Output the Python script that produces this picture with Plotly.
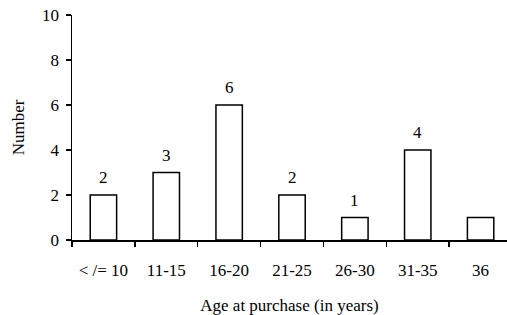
import plotly.graph_objects as go

categories = ["< /= 10", "11-15", "16-20", "21-25", "26-30", "31-35", "36"]
counts = [2, 3, 6, 2, 1, 4, 1]
y_ticks = [0, 2, 4, 6, 8, 10]

FONT = "Liberation Serif, Times New Roman, serif"
FS = 17

fig = go.Figure()
fig.add_trace(go.Bar(
    x=categories, y=counts,
    marker=dict(color="white", line=dict(color="black", width=1.5)),
    width=0.42,
    hoverinfo="skip",
))

for c, v in zip(categories, counts):
    fig.add_annotation(x=c, y=v, text=str(v), showarrow=False,
                       yanchor="bottom", yshift=6,
                       font=dict(family=FONT, size=FS, color="black"))

fig.update_layout(
    width=507, height=315,
    margin=dict(l=72, r=0, t=15, b=75),
    paper_bgcolor="white", plot_bgcolor="white",
    showlegend=False,
    font=dict(family=FONT, size=FS, color="black"),
)
fig.update_xaxes(
    type="category", range=[-0.5, 6.42], automargin=False,
    showline=True, linecolor="black", linewidth=1.5,
    ticks="outside", tickson="boundaries", ticklen=5, tickwidth=1.5, tickcolor="black",
    showgrid=False, zeroline=False,
    ticklabelstandoff=14,
    title=dict(text="Age at purchase (in years)", standoff=20,
               font=dict(family=FONT, size=FS)),
    tickfont=dict(family=FONT, size=FS),
)
fig.update_yaxes(
    range=[0, 10], tickvals=y_ticks, automargin=False,
    showline=True, linecolor="black", linewidth=1.5,
    ticks="outside", ticklen=5, tickwidth=1.5, tickcolor="black",
    showgrid=False, zeroline=False,
    ticklabelstandoff=3,
    title=dict(text="Number", standoff=13, font=dict(family=FONT, size=FS)),
    tickfont=dict(family=FONT, size=FS),
)

fig.write_html("out.html",
               config={"displayModeBar": False, "staticPlot": True},
               post_script="document.body.style.margin='0';document.body.style.overflow='hidden';")
